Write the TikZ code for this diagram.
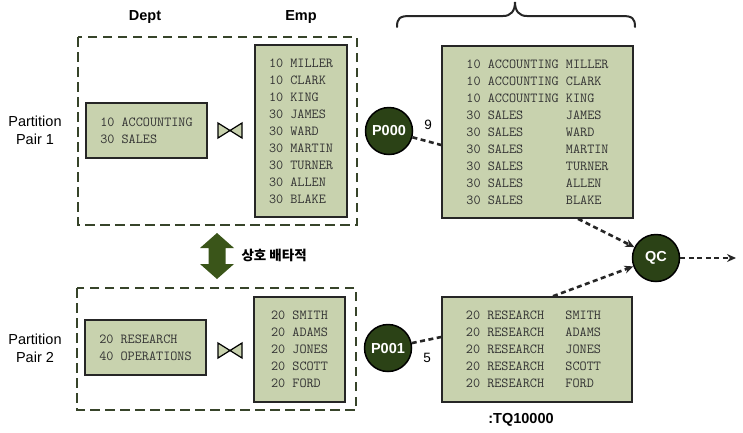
\documentclass[tikz,border=0pt]{standalone}
\usepackage{fontspec}
\newfontfamily\lsans{Liberation Sans}
\newfontfamily\krfont{Noto Sans CJK KR}
\usetikzlibrary{arrows.meta,calc}
\definecolor{boxfill}{HTML}{C8D2AE}
\definecolor{darkgreen}{HTML}{2B4216}
\definecolor{arrowgreen}{HTML}{3A5519}
\definecolor{olive}{HTML}{37442A}
\tikzset{
  databox/.style={draw=black!85, line width=1.6pt, fill=boxfill, inner sep=0pt,
    font=\ttfamily\fontsize{13.8}{17}\selectfont, align=left, text=black!80},
  groupbox/.style={draw=olive, line width=2.8pt, dash pattern=on 9.5pt off 5.5pt},
  proc/.style={circle, draw=black, line width=1.5pt, fill=darkgreen, minimum size=47pt,
    inner sep=0pt, text=white, font=\lsans\bfseries\fontsize{14.5}{16}\selectfont},
  conn/.style={draw=black!85, line width=2.6pt, dash pattern=on 5pt off 3.5pt},
  tip/.style={-{Stealth[length=9pt,width=8pt]}},
  lbl/.style={font=\lsans\fontsize{14.5}{18}\selectfont, align=center},
  hdr/.style={font=\lsans\bfseries\fontsize{14.5}{18}\selectfont},
  bowtie/.style={draw=black, line width=1.2pt, fill=boxfill, line join=miter}
}
\begin{document}
\begin{tikzpicture}[x=1pt,y=-1pt]
\useasboundingbox (0,0) rectangle (743,432);

% headers
\node[hdr] (hdept) at (145,17) {Dept};
\node[hdr] (hemp) at (301,17) {Emp};

% group boxes
\draw[groupbox] (78,37) rectangle (357,225);
\draw[groupbox] (77,288) rectangle (356,410);

% partition labels
\node[lbl] (pp1) at (35,130) {Partition\\Pair 1};
\node[lbl] (pp2) at (35,348) {Partition\\Pair 2};

% dept / emp boxes pair 1
\node[databox, minimum width=121pt, minimum height=55pt] (dept1) at (146.5,130.5)
  {10 ACCOUNTING\\30 SALES};
\node[databox, minimum width=92pt, minimum height=172pt] (emp1) at (301,131)
  {10 MILLER\\10 CLARK\\10 KING\\30 JAMES\\30 WARD\\30 MARTIN\\30 TURNER\\30 ALLEN\\30 BLAKE};

% dept / emp boxes pair 2
\node[databox, minimum width=121pt, minimum height=55pt] (dept2) at (145.5,347.5)
  {20 RESEARCH\\40 OPERATIONS};
\node[databox, minimum width=91pt, minimum height=105pt] (emp2) at (299.5,349.5)
  {20 SMITH\\20 ADAMS\\20 JONES\\20 SCOTT\\20 FORD};

% bowties
\draw[bowtie] (218,123) -- (218,138) -- (230,130.5) -- cycle;
\draw[bowtie] (242,123) -- (242,138) -- (230,130.5) -- cycle;
\draw[bowtie] (218,343) -- (218,358) -- (230,350.5) -- cycle;
\draw[bowtie] (242,343) -- (242,358) -- (230,350.5) -- cycle;

% mutual exclusion arrow
\fill[arrowgreen] (217,233) -- (234,248) -- (225.5,248) -- (225.5,264) -- (234,264)
  -- (217,279) -- (200,264) -- (208.5,264) -- (208.5,248) -- (200,248) -- cycle;
\node[font=\krfont\bfseries\fontsize{13.5}{15}\selectfont, anchor=west] (excl) at (238,255) {상호 배타적};

% brace
\draw[line width=2pt, black!85, line cap=round]
  (397,27) .. controls (397,18) and (400,16) .. (410,16) -- (503,16)
  .. controls (511,16) and (515,11) .. (515,2)
  .. controls (515,11) and (519,16) .. (527,16) -- (622,16)
  .. controls (632,16) and (635,18) .. (635,27);

% result boxes
\node[databox, minimum width=191pt, minimum height=172pt] (res1) at (537.5,132)
  {10 ACCOUNTING MILLER\\10 ACCOUNTING CLARK\\10 ACCOUNTING KING\\30 SALES~~~~~~JAMES\\30 SALES~~~~~~WARD\\30 SALES~~~~~~MARTIN\\30 SALES~~~~~~TURNER\\30 SALES~~~~~~ALLEN\\30 SALES~~~~~~BLAKE};
\node[databox, minimum width=190pt, minimum height=105pt] (res2) at (537,349.5)
  {20 RESEARCH~~~SMITH\hphantom{M}\\20 RESEARCH~~~ADAMS\\20 RESEARCH~~~JONES\\20 RESEARCH~~~SCOTT\\20 RESEARCH~~~FORD};

\node[hdr] (tq) at (521,420) {:TQ10000};

% processes
\node[proc] (p0) at (389,131) {P000};
\node[proc] (p1) at (388,348) {P001};
\node[proc] (qc) at (656,258) {QC};
\coordinate (out) at (736,258);

\node[lbl, font=\lsans\fontsize{13.5}{15}\selectfont] (n9) at (428,125) {9};
\node[lbl, font=\lsans\fontsize{13.5}{15}\selectfont] (n5) at (427,358) {5};

% connectors
\draw[conn] (p0) -- ($(res1.west)+(0,13)$);
\draw[conn] (p1) -- ($(res2.west)+(0,-12.5)$);
\draw[conn, tip] ($(res1.south)+(40.5,0)$) -- (qc);
\draw[conn, tip] ($(res2.north)+(16,0)$) -- (qc);
\draw[conn, tip] (qc) -- (out);
\end{tikzpicture}
\end{document}
